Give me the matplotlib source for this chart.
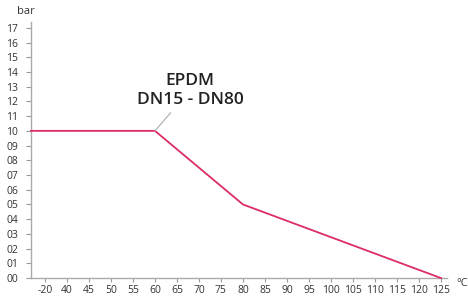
import matplotlib
matplotlib.use("Agg")
import matplotlib.pyplot as plt

# Data
x_tick_labels = ["-20", "40", "45", "50", "55", "60", "65", "70", "75", "80",
                 "85", "90", "95", "100", "105", "110", "115", "120", "125"]
y_ticks = list(range(0, 18))
y_tick_labels = [f"{v:02d}" for v in y_ticks]
curve_temps = ["-20", "60", "80", "125"]
curve_pressure = [10, 10, 5, 0]
label_text = "EPDM\nDN15 - DN80"

plt.rcParams['font.family'] = ['Open Sans', 'DejaVu Sans']

fig = plt.figure(figsize=(4.68, 3.0), dpi=100)
ax = fig.add_axes([0.066, 0.073, 0.889, 0.854])

pos = {lab: i for i, lab in enumerate(x_tick_labels)}
xl = (-0.64, 18.27)
ax.set_xlim(*xl)
ax.set_ylim(0, 17.4)

xs = [pos[t] for t in curve_temps]
xs[0] = xl[0]
ax.plot(xs, curve_pressure, color="#dc2d63", lw=1.3, solid_joinstyle="miter", clip_on=False, zorder=3)

ax.set_xticks(range(len(x_tick_labels)))
ax.set_xticklabels(x_tick_labels)
ax.set_yticks(y_ticks)
ax.set_yticklabels(y_tick_labels)

for s in ["top", "right"]:
    ax.spines[s].set_visible(False)
for s in ["left", "bottom"]:
    ax.spines[s].set_color("#aaaaaa")
    ax.spines[s].set_linewidth(1.0)
ax.tick_params(axis="y", length=3.5, width=0.8, color="#999999", labelsize=7.5, labelcolor="#333333", pad=5.5)
ax.tick_params(axis="x", length=3, width=0.8, color="#999999", labelsize=7.5, labelcolor="#333333", pad=2)

fig.text(26/468, 1 - 12/300, "bar", ha="center", va="center", fontsize=8, color="#333333")
fig.text(456/468, 1 - 283/300, "°C", ha="left", va="center", fontsize=8, color="#333333")

ax.annotate(label_text, xy=(pos["60"], 10), xytext=(6.59, 12.75),
            ha="center", va="center", fontsize=12.5, fontweight="semibold", color="#222222",
            linespacing=1.25,
            arrowprops=dict(arrowstyle="-", color="#aaaaaa", lw=0.8, shrinkA=2, shrinkB=0))

fig.savefig("out.png", dpi=100)
